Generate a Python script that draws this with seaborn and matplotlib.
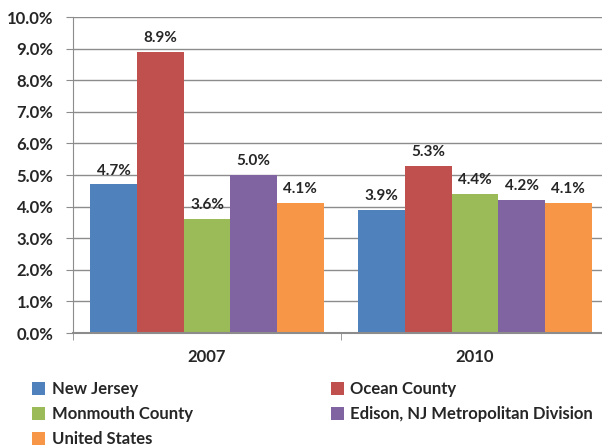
import matplotlib
matplotlib.use("Agg")
import matplotlib.pyplot as plt
import seaborn as sns
import pandas as pd
from matplotlib.ticker import PercentFormatter

# datos
years = ["2007", "2010"]
areas = ["New Jersey", "Ocean County", "Monmouth County",
         "Edison, NJ Metropolitan Division", "United States"]
rate_2007 = [4.7, 8.9, 3.6, 5.0, 4.1]
rate_2010 = [3.9, 5.3, 4.4, 4.2, 4.1]
colores = ["#4F81BD", "#C0504D", "#9BBB59", "#8064A2", "#F79646"]

df = pd.DataFrame({
    "year": [years[0]] * len(areas) + [years[1]] * len(areas),
    "area": areas + areas,
    "rate": rate_2007 + rate_2010,
})

sns.set_style("white")
plt.rcParams["font.family"] = ["Lato", "DejaVu Sans"]
plt.rcParams["font.weight"] = "bold"

fig = plt.figure(figsize=(6.02, 4.46), dpi=100)
ax = fig.add_axes([73 / 602, 113 / 446, 536 / 602, 316 / 446])

sns.barplot(data=df, x="year", y="rate", hue="area", hue_order=areas,
            palette=colores, saturation=1, width=0.87, linewidth=0,
            ax=ax, legend=True)

# etiquetas sobre las barras
for cont in ax.containers:
    ax.bar_label(cont, fmt="%.1f%%", padding=5, fontsize=11, fontweight="bold")

ax.set_ylim(0, 10)
ax.set_yticks(range(0, 11))
ax.yaxis.set_major_formatter(PercentFormatter(decimals=1))
ax.yaxis.grid(True, color="#8c8c8c", linewidth=1)
ax.set_axisbelow(True)
ax.set_xlabel("")
ax.set_ylabel("")

for lado in ["top", "right"]:
    ax.spines[lado].set_visible(False)
ax.spines["left"].set_color("#8c8c8c")
ax.spines["bottom"].set_color("#8c8c8c")
ax.spines["bottom"].set_linewidth(1.5)

ax.tick_params(axis="y", left=True, length=5, color="#8c8c8c", labelsize=12, pad=9)
ax.tick_params(axis="x", bottom=False, labelsize=12, pad=8)
# marcas separadoras entre categorias
ax.set_xticks([-0.5, 0.5, 1.5], minor=True)
ax.tick_params(axis="x", which="minor", bottom=True, length=5, color="#8c8c8c")
ax.set_xlim(-0.5, 1.5)
for t in ax.get_yticklabels() + ax.get_xticklabels():
    t.set_fontweight("bold")

# leyenda en dos columnas
h, l = ax.get_legend_handles_labels()
ax.get_legend().remove()
orden = [0, 2, 4, 1, 3]
fig.legend([h[i] for i in orden], [l[i] for i in orden], ncol=2,
           loc="upper left", bbox_to_anchor=(17 / 602, 1 - 366 / 446),
           frameon=False, handlelength=0.8, handleheight=0.8,
           handletextpad=0.4, labelspacing=0.55, columnspacing=8.25,
           prop={"weight": "bold", "size": 12})

fig.savefig("out.png", dpi=100)
